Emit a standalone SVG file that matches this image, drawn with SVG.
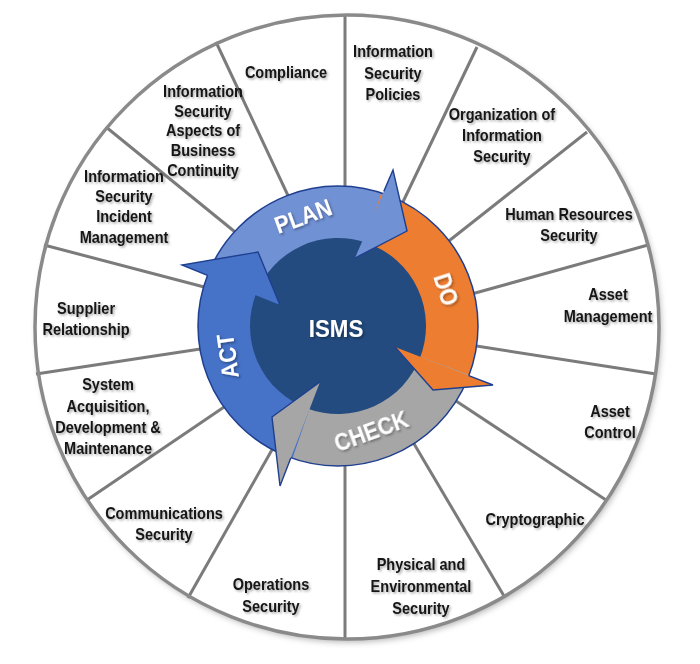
<svg xmlns="http://www.w3.org/2000/svg" width="700" height="664" viewBox="0 0 700 664">
<defs>
<style>
.div line{stroke:#7b7b7b;stroke-width:3;stroke-linecap:butt}
.lb{font-family:"Liberation Sans",Arial,sans-serif;font-weight:700;font-size:16.5px;fill:#141414;text-anchor:middle}
.pd{font-family:"Liberation Sans",Arial,sans-serif;font-weight:700;font-size:24px;fill:#ffffff;text-anchor:middle}
.hd{stroke:#1f3f8f;stroke-width:1.4;fill:none;stroke-linejoin:miter}
</style>
<filter id="sh" x="-20%" y="-30%" width="140%" height="160%">
<feDropShadow dx="1.5" dy="1.5" stdDeviation="1" flood-color="#000" flood-opacity="0.35"/>
</filter>
<filter id="osh" x="-10%" y="-10%" width="120%" height="120%">
<feDropShadow dx="2" dy="3" stdDeviation="3" flood-color="#000" flood-opacity="0.3"/>
</filter>
</defs>
<rect width="700" height="664" fill="#ffffff"/>
<circle cx="347" cy="327" r="312" fill="#ffffff" filter="url(#osh)"/>
<g id="dividers" class="div">
<line x1="345" y1="14" x2="345" y2="195"/>
<line x1="477" y1="47" x2="401" y2="206"/>
<line x1="587" y1="132" x2="445" y2="244"/>
<line x1="648" y1="245" x2="468" y2="295"/>
<line x1="656" y1="374" x2="470" y2="345"/>
<line x1="606" y1="500" x2="450" y2="397"/>
<line x1="504" y1="596" x2="410" y2="437"/>
<line x1="345" y1="640" x2="345" y2="460"/>
<line x1="188" y1="598" x2="277" y2="441"/>
<line x1="87" y1="500" x2="230" y2="403"/>
<line x1="36" y1="374" x2="207" y2="348"/>
<line x1="44" y1="245" x2="208" y2="288"/>
<line x1="106" y1="127" x2="240" y2="236"/>
<line x1="216" y1="42" x2="291" y2="202"/>
</g>
<circle cx="347" cy="327" r="312" fill="none" stroke="#8a8a8a" stroke-width="3.5"/>
<g id="pdca">
<circle id="center" cx="338" cy="326" r="90" fill="#234b7f"/>
<path id="plan-band" d="M207.3,275.8 A140,140 0 0 1 385.9,194.4 L368.1,243.3 A88,88 0 0 0 255.8,294.5 Z" fill="#7191d5"/>
<path id="do-band" d="M381.3,192.8 A140,140 0 0 1 467.3,379.6 L419.3,359.7 A88,88 0 0 0 365.2,242.3 Z" fill="#ed7d31"/>
<path id="check-band" d="M469.1,375.0 A140,140 0 0 1 287.8,456.7 L306.5,408.2 A88,88 0 0 0 420.4,356.8 Z" fill="#a6a6a6"/>
<path id="act-band" d="M292.4,458.4 A140,140 0 0 1 209.1,271.3 L257.0,291.6 A88,88 0 0 0 309.3,409.2 Z" fill="#4673c8"/>
<circle cx="338" cy="326" r="140" fill="none" stroke="#1f3f8f" stroke-width="1.5"/>
<g id="plan-head">
<polygon points="393,170 407,231 355,258" fill="#7191d5"/>
<polyline class="hd" points="383.8,191.4 393,170 407,231 355,258"/>
</g>
<g id="do-head">
<polygon points="493,385 433,390 395,347" fill="#ed7d31"/>
<polyline class="hd" points="468.7,375.6 493,385 433,390 395,347"/>
</g>
<g id="check-head">
<polygon points="280,486 272,417 320,382" fill="#a6a6a6"/>
<polyline class="hd" points="290.8,457.9 280,486 272,417 320,382"/>
</g>
<g id="act-head">
<polygon points="182,265 258,252 280,305" fill="#4673c8"/>
<polyline class="hd" points="207.5,275.4 182,265 258,252 280,305"/>
</g>
</g>
<g id="pdca-labels" class="pd" filter="url(#sh)">
<text id="t-plan" transform="translate(306 224) rotate(-20) scale(0.9 1)" x="0" y="0">PLAN</text>
<text id="t-do" transform="translate(438 292) rotate(72) scale(0.9 1)" x="0" y="0">DO</text>
<text id="t-check" transform="translate(374 439) rotate(-20) scale(0.9 1)" x="0" y="0">CHECK</text>
<text id="t-act" transform="translate(236 355) rotate(-98) scale(0.9 1)" x="0" y="0">ACT</text>
<text id="t-isms" transform="translate(336 337) scale(0.93 1)" x="0" y="0">ISMS</text>
</g>
<g class="lb" filter="url(#sh)">
<g id="n-compliance"><text transform="translate(286 0) scale(0.88 1)"><tspan x="0" y="78">Compliance</tspan></text></g>
<g id="n-policies"><text transform="translate(393 0) scale(0.88 1)"><tspan x="0" y="57">Information</tspan><tspan x="0" y="79">Security</tspan><tspan x="0" y="100">Policies</tspan></text></g>
<g id="n-organization"><text transform="translate(502 0) scale(0.88 1)"><tspan x="0" y="120">Organization of</tspan><tspan x="0" y="141">Information</tspan><tspan x="0" y="162">Security</tspan></text></g>
<g id="n-human"><text transform="translate(569 0) scale(0.88 1)"><tspan x="0" y="220">Human Resources</tspan><tspan x="0" y="241">Security</tspan></text></g>
<g id="n-asset-mgmt"><text transform="translate(608 0) scale(0.88 1)"><tspan x="0" y="300">Asset</tspan><tspan x="0" y="322">Management</tspan></text></g>
<g id="n-asset-control"><text transform="translate(610 0) scale(0.88 1)"><tspan x="0" y="417">Asset</tspan><tspan x="0" y="438">Control</tspan></text></g>
<g id="n-crypto"><text transform="translate(535 0) scale(0.88 1)"><tspan x="0" y="525">Cryptographic</tspan></text></g>
<g id="n-physical"><text transform="translate(421 0) scale(0.88 1)"><tspan x="0" y="570">Physical and</tspan><tspan x="0" y="592">Environmental</tspan><tspan x="0" y="614">Security</tspan></text></g>
<g id="n-operations"><text transform="translate(271 0) scale(0.88 1)"><tspan x="0" y="590">Operations</tspan><tspan x="0" y="612">Security</tspan></text></g>
<g id="n-communications"><text transform="translate(164 0) scale(0.88 1)"><tspan x="0" y="519">Communications</tspan><tspan x="0" y="540">Security</tspan></text></g>
<g id="n-system"><text transform="translate(108 0) scale(0.88 1)"><tspan x="0" y="390">System</tspan><tspan x="0" y="412">Acquisition,</tspan><tspan x="0" y="433">Development &amp;</tspan><tspan x="0" y="454">Maintenance</tspan></text></g>
<g id="n-supplier"><text transform="translate(86 0) scale(0.88 1)"><tspan x="0" y="314">Supplier</tspan><tspan x="0" y="335">Relationship</tspan></text></g>
<g id="n-incident"><text transform="translate(124 0) scale(0.88 1)"><tspan x="0" y="182">Information</tspan><tspan x="0" y="202">Security</tspan><tspan x="0" y="222.5">Incident</tspan><tspan x="0" y="243">Management</tspan></text></g>
<g id="n-continuity"><text transform="translate(203 0) scale(0.88 1)"><tspan x="0" y="97">Information</tspan><tspan x="0" y="117">Security</tspan><tspan x="0" y="136.5">Aspects of</tspan><tspan x="0" y="156.5">Business</tspan><tspan x="0" y="176">Continuity</tspan></text></g>
</g>
</svg>
